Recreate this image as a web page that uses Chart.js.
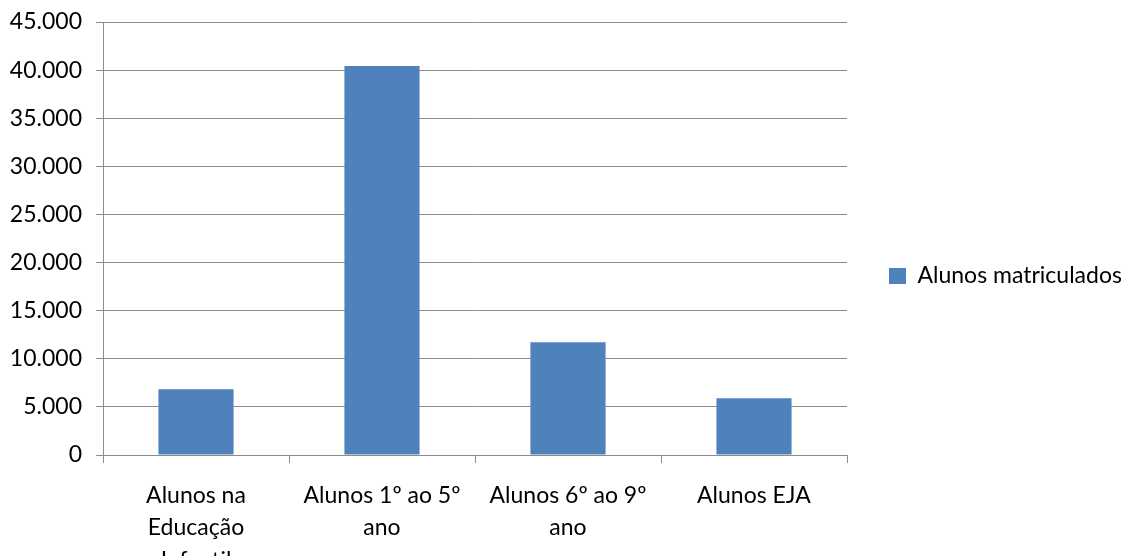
<!DOCTYPE html>
<html>
<head>
<meta charset="utf-8">
<script src="https://cdn.jsdelivr.net/npm/chart.js@4/dist/chart.umd.min.js"></script>
<style>
  html, body { margin: 0; padding: 0; background: #fff; overflow: hidden; }
  #wrap { width: 1131px; height: 556px; }
</style>
</head>
<body>
<div id="wrap"><canvas id="chart"></canvas></div>
<script>
// enrolment counts per level
const categories = [
  ['Alunos na', 'Educação', 'Infantil'],
  ['Alunos 1º ao 5º', 'ano'],
  ['Alunos 6º ao 9º', 'ano'],
  ['Alunos EJA']
];
const matriculados = [6830, 40420, 11720, 5900];
const seriesName = 'Alunos matriculados';
const yMax = 45000;
const yStep = 5000;

// thousands separator with a dot
const fmt = (v) => String(v).replace(/\B(?=(\d{3})+(?!\d))/g, '.');

const gridColor = '#8c8c8c';
const font = { family: 'Lato', size: 23 };

// legend sits a bit above the vertical middle
const legendLift = {
  id: 'legendLift',
  afterLayout(chart) {
    if (chart.legend) chart.legend.bottom -= 26;
  }
};

new Chart(document.getElementById('chart'), {
  type: 'bar',
  data: {
    labels: categories,
    datasets: [{
      label: seriesName,
      data: matriculados,
      backgroundColor: '#4f81bd',
      borderWidth: 0,
      barPercentage: 0.404,
      categoryPercentage: 1
    }]
  },
  options: {
    responsive: true,
    maintainAspectRatio: false,
    animation: false,
    layout: { padding: { top: 22, left: 0, right: 0, bottom: 0 } },
    plugins: {
      tooltip: { enabled: false },
      legend: {
        position: 'right',
        maxWidth: 284,
        labels: {
          color: '#000',
          font: font,
          boxWidth: 17,
          boxHeight: 16,
          padding: 42
        }
      }
    },
    scales: {
      x: {
        grid: {
          drawOnChartArea: false,
          drawTicks: true,
          tickLength: 8,
          color: gridColor
        },
        border: { color: gridColor, width: 1 },
        ticks: {
          color: '#000',
          font: { family: 'Lato', size: 23, lineHeight: 1.42 },
          padding: 16,
          maxRotation: 0,
          autoSkip: false
        },
        afterFit: (scale) => { scale.height = 101; }
      },
      y: {
        min: 0,
        max: yMax,
        grid: {
          color: gridColor,
          tickLength: 7
        },
        border: { color: gridColor, width: 1 },
        ticks: {
          stepSize: yStep,
          color: '#000',
          font: font,
          padding: 14,
          callback: (v) => fmt(v)
        },
        afterFit: (scale) => {
          scale.width = 103;
          scale.paddingTop = 0;
          scale.paddingBottom = 0;
        }
      }
    }
  },
  plugins: [legendLift]
});
</script>
</body>
</html>
